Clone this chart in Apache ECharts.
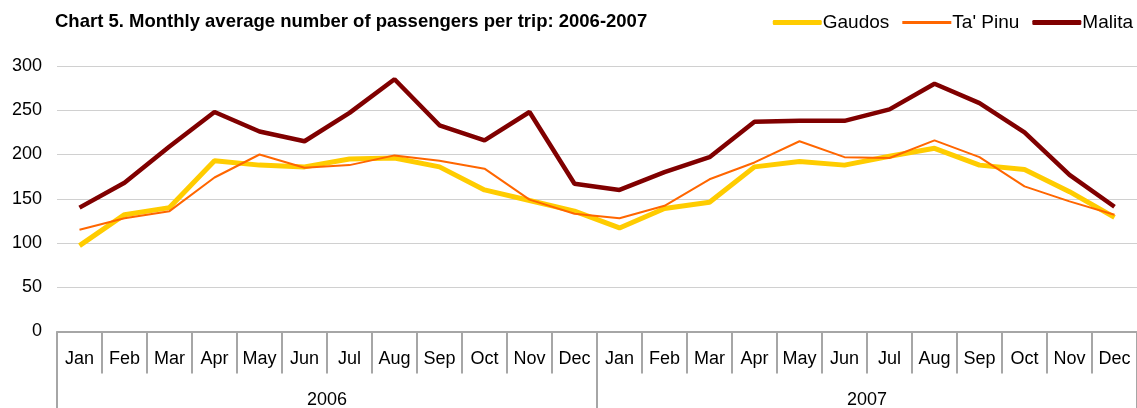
<!DOCTYPE html>
<html>
<head>
<meta charset="utf-8">
<script src="https://cdn.jsdelivr.net/npm/echarts@6/dist/echarts.min.js"></script>
<style>
html,body{margin:0;padding:0;background:#fff;}
#chart{width:1137px;height:408px;}
</style>
</head>
<body>
<div id="chart"></div>
<script>
var months = ['Jan','Feb','Mar','Apr','May','Jun','Jul','Aug','Sep','Oct','Nov','Dec',
              'Jan','Feb','Mar','Apr','May','Jun','Jul','Aug','Sep','Oct','Nov','Dec'];
var years = ['2006','2007'];
var yTicks = [0, 50, 100, 150, 200, 250, 300];
var gaudos = [97,132,140,193,188,186,195,196,186,160,148,136, 117,139,146,186,192,188,198,207,188,183,158,129];
var taPinu = [115,128,136,174,200,185,188,199,193,184,149,133, 128,142,172,191,215,197,196,216,197,164,147,132];
var malita = [140,168,209,248,226,215,247,285,233,216,248,167, 160,180,197,237,238,238,251,280,258,225,177,141];

var FONT = 'Liberation Sans, Arial, sans-serif';
var chart = echarts.init(document.getElementById('chart'), null, {renderer:'canvas'});
chart.setOption({
  animation:false,
  backgroundColor:'#fff',
  title:{
    text:'Chart 5. Monthly average number of passengers per trip: 2006-2007',
    left:50, top:7,
    textStyle:{fontFamily:FONT, fontWeight:'bold', fontSize:18.5, color:'#000'}
  },
  legend:{
    right:-1, top:8,
    itemWidth:49, itemHeight:5, itemGap:13,
    textStyle:{fontFamily:FONT, fontSize:19, color:'#000', padding:[0,0,0,-4]},
    data:[
      {name:'Gaudos', icon:'roundRect', itemStyle:{color:'#FFCC00'}},
      {name:"Ta' Pinu", icon:'path://M0,0 L49,0 L49,3 L0,3 Z', itemStyle:{color:'#FF6600'}},
      {name:'Malita', icon:'roundRect', itemStyle:{color:'#800000'}}
    ]
  },
  grid:{left:57, right:0, top:66, bottom:76.5, outerBoundsMode:'none', containLabel:false},
  xAxis:[
    {
      type:'category', data:months, position:'bottom',
      axisLine:{show:true, lineStyle:{color:'#A6A6A6', width:2}},
      axisTick:{show:true, interval:0, length:42, lineStyle:{color:'#A6A6A6', width:2}},
      axisLabel:{interval:0, margin:19, fontFamily:FONT, fontSize:18, color:'#000'}
    },
    {
      type:'category', data:years, position:'bottom',
      axisLine:{show:false},
      axisTick:{show:true, interval:0, length:80, lineStyle:{color:'#A6A6A6', width:2}},
      axisLabel:{interval:0, margin:60, fontFamily:FONT, fontSize:18, color:'#000'}
    }
  ],
  yAxis:{
    type:'value', min:yTicks[0], max:yTicks[yTicks.length-1], interval:50,
    axisLine:{show:false}, axisTick:{show:false},
    axisLabel:{margin:15, fontFamily:FONT, fontSize:18, color:'#000'},
    splitLine:{lineStyle:{color:'#D0D0D0', width:1}}
  },
  series:[
    {name:'Gaudos', type:'line', data:gaudos, symbol:'none', xAxisIndex:0,
     lineStyle:{color:'#FFCC00', width:5}, itemStyle:{color:'#FFCC00'}},
    {name:"Ta' Pinu", type:'line', data:taPinu, symbol:'none', xAxisIndex:0,
     lineStyle:{color:'#FF6600', width:2}, itemStyle:{color:'#FF6600'}},
    {name:'Malita', type:'line', data:malita, symbol:'none', xAxisIndex:0,
     lineStyle:{color:'#800000', width:4.5}, itemStyle:{color:'#800000'}}
  ]
});
</script>
</body>
</html>
